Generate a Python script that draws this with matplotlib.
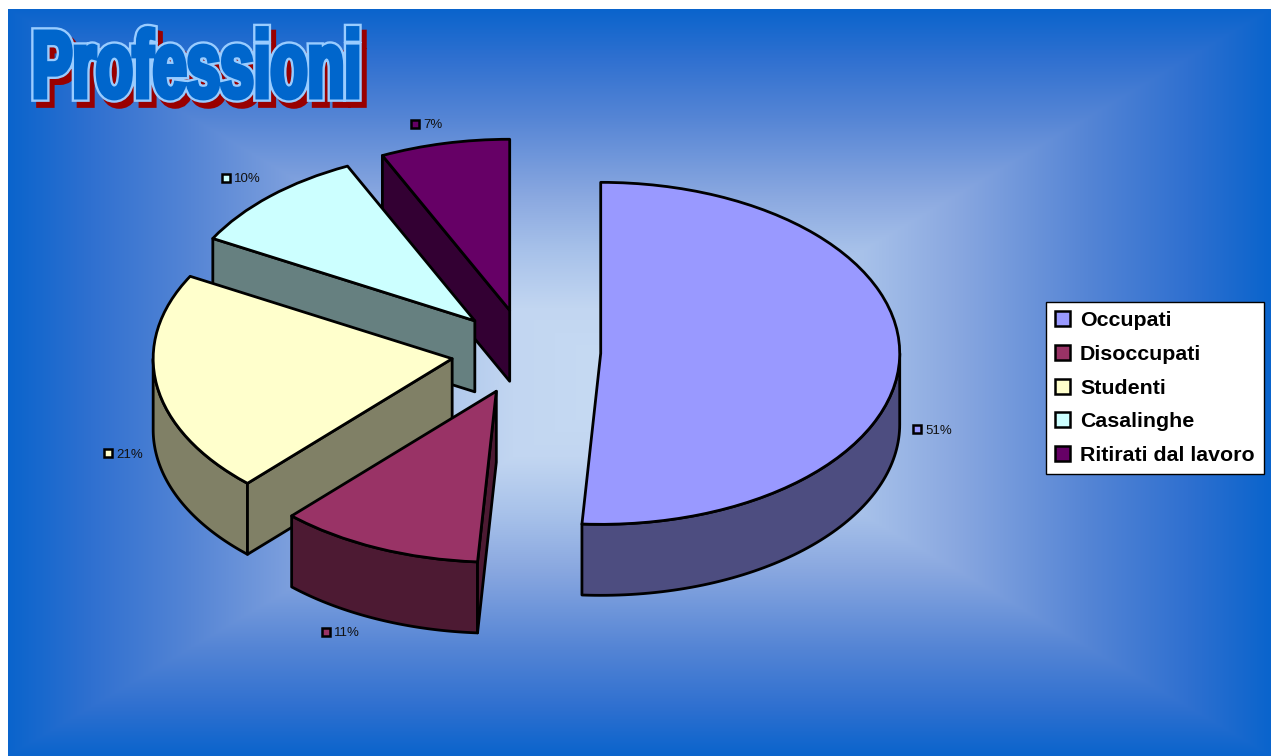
import numpy as np
import matplotlib
matplotlib.use("Agg")
import matplotlib.pyplot as plt
import matplotlib.patheffects as pe
from matplotlib.patches import Patch, Rectangle
from matplotlib.transforms import Affine2D

categories = ["Occupati", "Disoccupati", "Studenti", "Casalinghe", "Ritirati dal lavoro"]
values = [51, 11, 21, 10, 7]
top_colors = ["#9999ff", "#993366", "#ffffcc", "#ccffff", "#660066"]
side_colors = ["#4d4d80", "#4d1a33", "#808066", "#668080", "#330033"]
label_pos = [(917, 429), (326, 632), (108, 453), (226, 178), (415, 124)]
title = "Professioni"

W, H = 1271, 756
CX, CY, RX, RY = 526, 352, 299, 171
DEPTH = 71 / RY
EXPLODE = 0.25
LW = 2.0


class Squeezed(pe.AbstractPathEffect):
    # draws the text path narrower in x, shifted and outlined
    def __init__(self, sx, x0, dx, dy, edge, lw, face):
        super().__init__()
        self.tr = Affine2D().translate(-x0, 0).scale(sx, 1).translate(x0 + dx, dy)
        self.edge, self.lw, self.face = edge, lw, face

    def draw_path(self, renderer, gc, tpath, affine, rgbFace=None):
        gc0 = renderer.new_gc()
        gc0.copy_properties(gc)
        gc0.set_foreground(self.edge)
        gc0.set_linewidth(self.lw)
        gc0.set_joinstyle("miter")
        renderer.draw_path(gc0, tpath, affine + self.tr, matplotlib.colors.to_rgb(self.face))
        gc0.restore()


fig = plt.figure(figsize=(W / 100, H / 100), dpi=100, facecolor="white")

# rectangular gradient behind everything
bg = fig.add_axes([8 / W, 0, (W - 8) / W, (H - 9) / H])
yy, xx = np.mgrid[-1:1:747j, -1:1:1263j]
t = np.maximum(np.abs(xx), np.abs(yy))
stops = [0, 0.2, 0.35, 0.5, 0.71, 0.87, 1.0]
reds = [0xc8, 0xc2, 0xa8, 0x8a, 0x55, 0x2f, 0x0a]
greens = [0xdc, 0xd6, 0xc2, 0xa8, 0x85, 0x70, 0x64]
blues = [0xf4, 0xf1, 0xea, 0xe0, 0xd5, 0xd0, 0xcc]
img = np.dstack([np.interp(t, stops, c) / 255 for c in (reds, greens, blues)])
bg.imshow(img, aspect="auto")
bg.axis("off")

ax = fig.add_axes([0, 0, 1, 1])
ax.patch.set_alpha(0)
wedges, _ = ax.pie(values, explode=[EXPLODE] * len(values), startangle=90, counterclock=False,
                   colors=top_colors, radius=1,
                   wedgeprops={"edgecolor": "black", "linewidth": LW, "joinstyle": "round"})
ax.set_aspect("auto")
ax.set_xlim(-CX / RX, (W - CX) / RX)
ax.set_ylim(-(H - CY) / RY, CY / RY)

# back-to-front drawing order of the slices
order = [4, 3, 2, 1, 0]
for z, i in enumerate(order):
    w = wedges[i]
    cx, cy = w.center
    w.set_zorder(2 * z + 3)
    side = dict(facecolor=side_colors[i], edgecolor="black", linewidth=LW, joinstyle="round", zorder=2 * z + 2)

    # outer rim, only the front half of the ellipse shows
    a1, a2 = np.radians(w.theta1) % (2 * np.pi), np.radians(w.theta2) % (2 * np.pi)
    if a2 <= a1:
        a2 += 2 * np.pi
    lo, hi = max(a1, np.pi), min(a2, 2 * np.pi)
    if hi > lo:
        a = np.linspace(lo, hi, 80)
        xs = cx + np.cos(a)
        ys = cy + np.sin(a)
        ax.fill(np.r_[xs, xs[::-1]], np.r_[ys, ys[::-1] - DEPTH], **side)

    # cut face along the leading edge (theta2, the pie runs clockwise)
    lead = np.radians(w.theta2)
    if np.cos(lead) < -1e-6:
        ex, ey = cx + np.cos(lead), cy + np.sin(lead)
        ax.fill([cx, ex, ex, cx], [cy, ey, ey - DEPTH, cy - DEPTH], **side)

# value labels with their small colour keys
for val, col, (px, py) in zip(values, top_colors, label_pos):
    fig.add_artist(Rectangle(((px - 4) / W, 1 - (py + 4) / H), 8 / W, 8 / H, transform=fig.transFigure,
                             facecolor=col, edgecolor="black", linewidth=1.8))
    fig.text((px + 8) / W, 1 - (py + 1.5) / H, f"{val}%", family="Liberation Sans", fontsize=9.5,
             va="center", ha="left", color="#111111")

handles = [Patch(facecolor=c, edgecolor="black", linewidth=1.8) for c in top_colors]
leg = fig.legend(handles, categories, loc="upper left", bbox_to_anchor=(1046 / W, 1 - 302 / H),
                 borderaxespad=0, fancybox=False, framealpha=1, edgecolor="black", facecolor="white",
                 prop={"family": "Liberation Sans", "weight": "bold", "size": 15.4},
                 handlelength=0.7, handleheight=0.7, handletextpad=0.47, labelspacing=0.69,
                 borderpad=0.42)
leg.get_frame().set_linewidth(1.0)

# heavy condensed lettering: red shadow, pale outline, then a blue core
fig.text(32 / W, 1 - 97 / H, title, family=["Liberation Sans Narrow", "Liberation Sans"], weight="bold",
         fontsize=68, va="baseline", ha="left", color="#0066cc",
         path_effects=[Squeezed(0.64, 32, 5, -6, "#990000", 7.0, "#990000"),
                       Squeezed(0.64, 32, 0, 0, "#99ccff", 7.0, "#99ccff"),
                       Squeezed(0.64, 32, 0, 0, "#0066cc", 3.6, "#0066cc")])

fig.savefig("out.png", dpi=100)
